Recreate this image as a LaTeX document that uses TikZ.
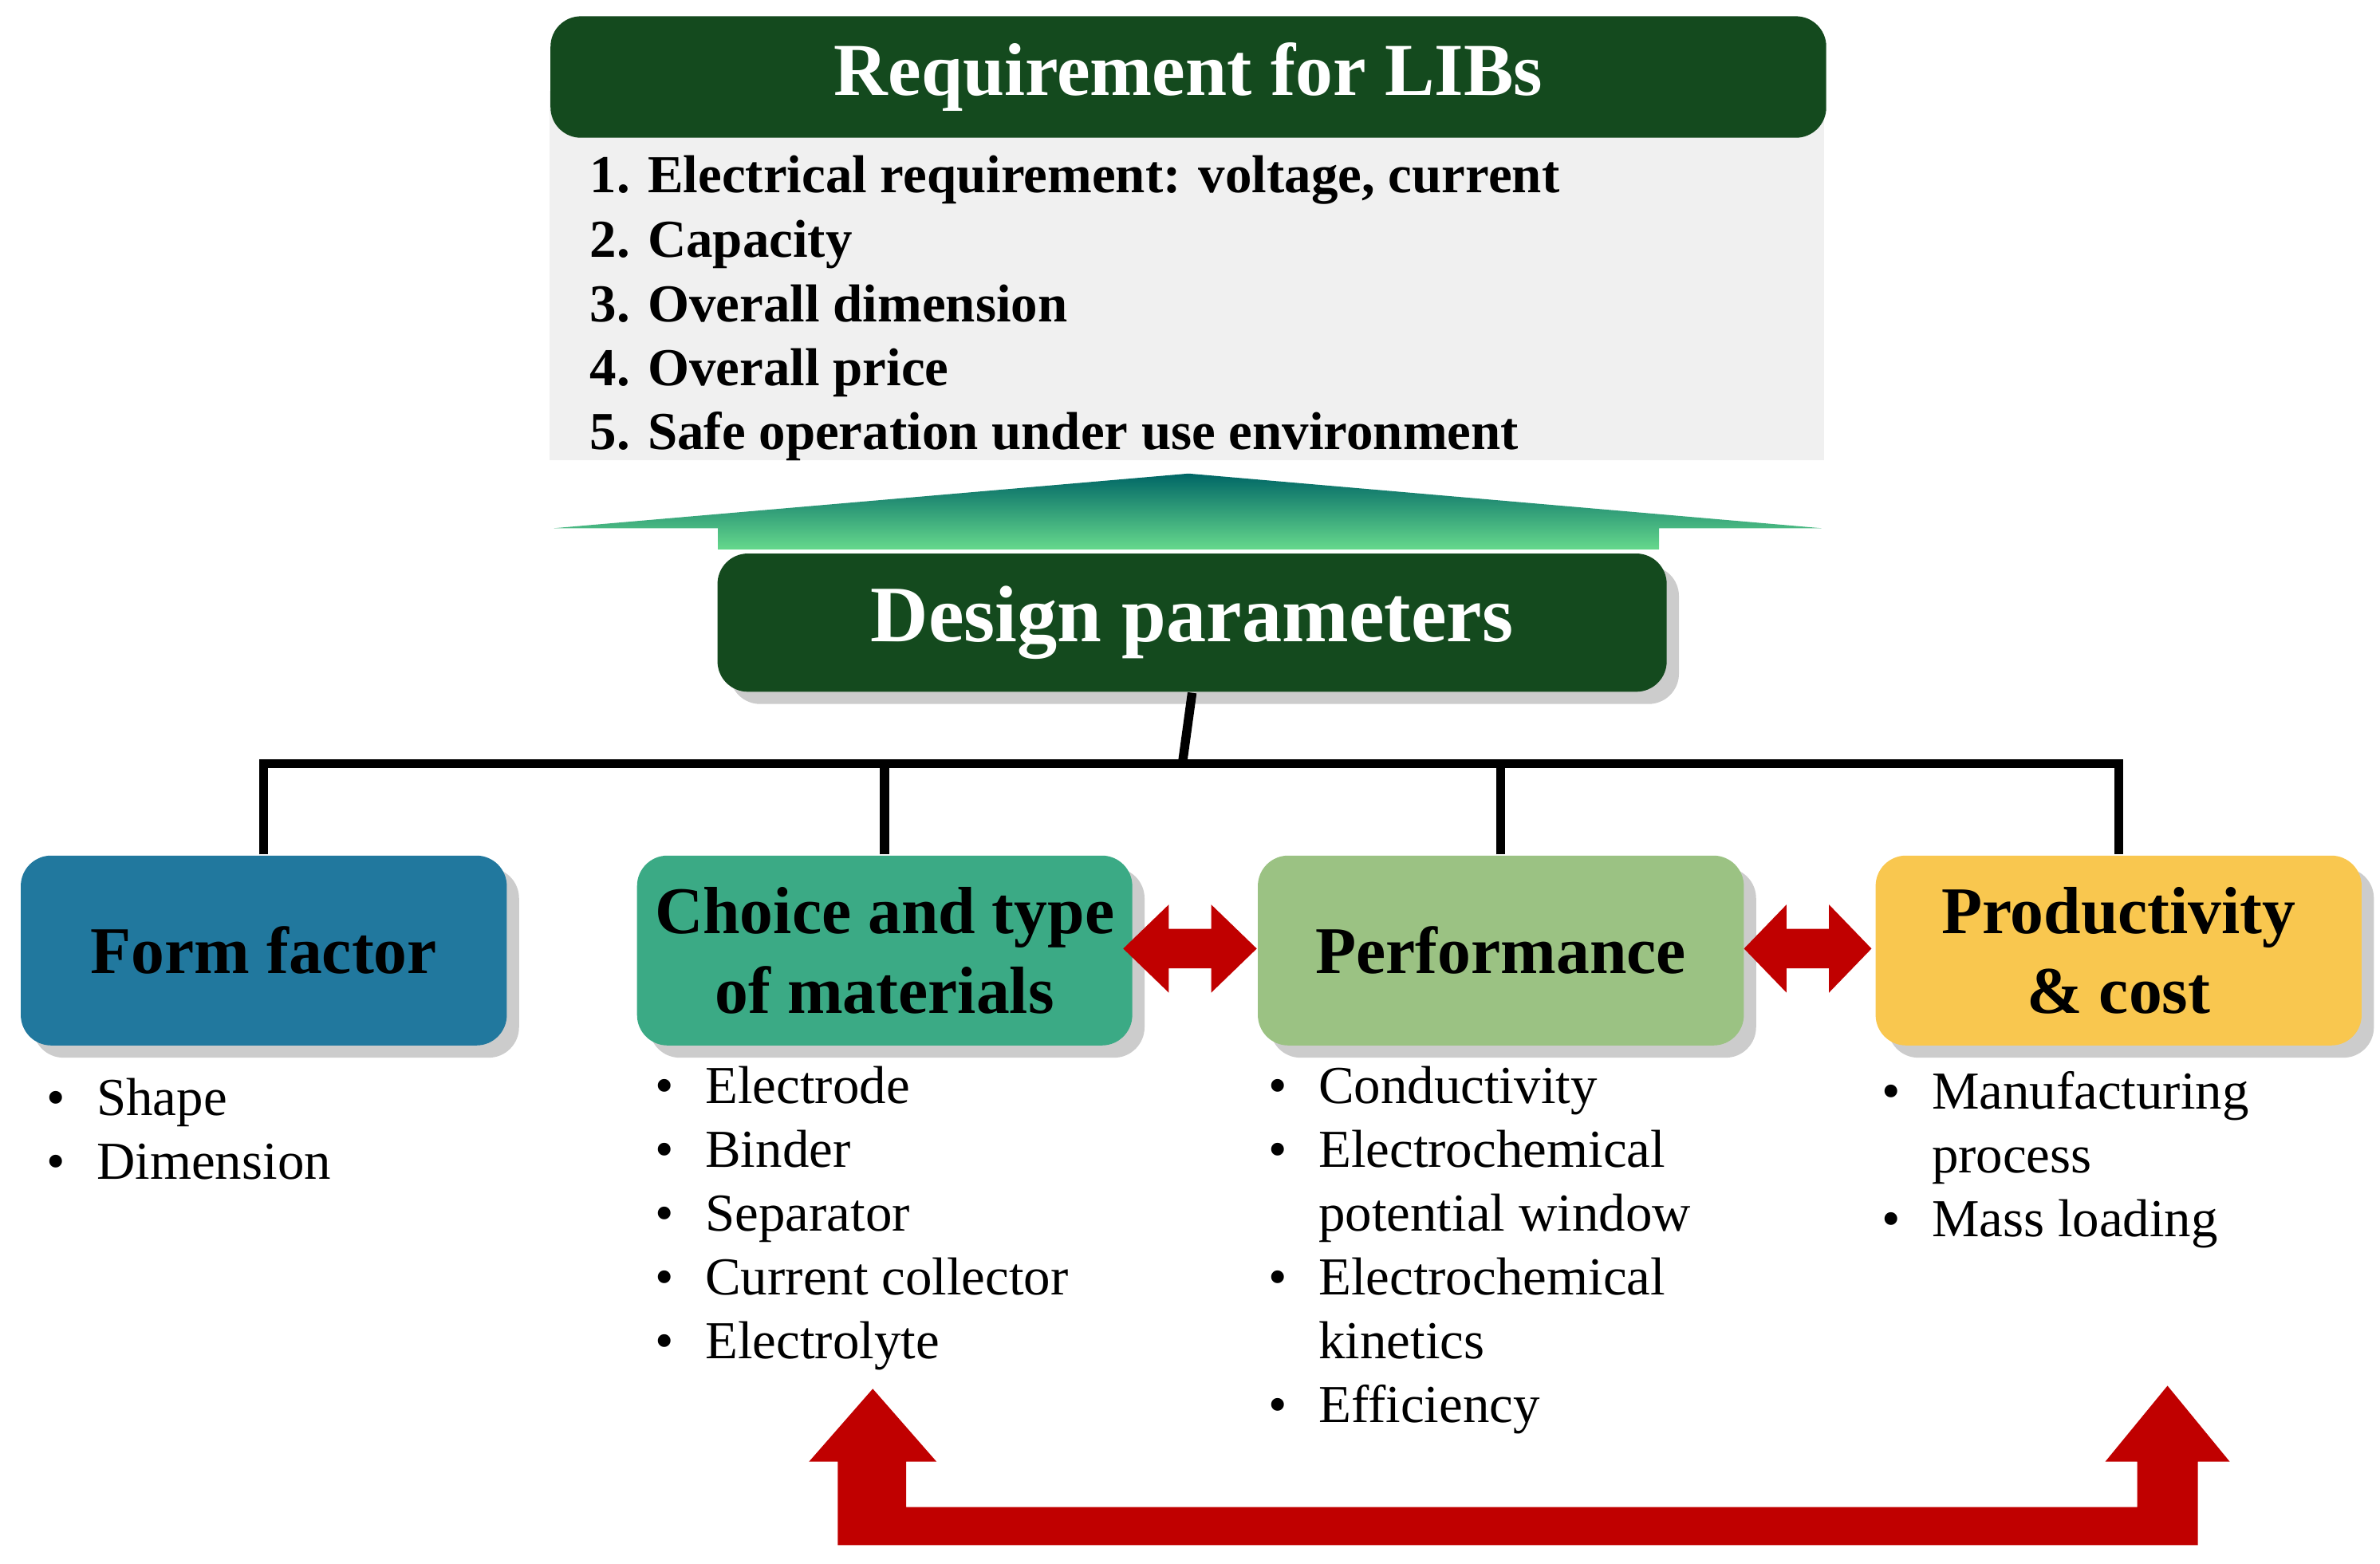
\documentclass[tikz,border=0pt]{standalone}
\usepackage{fontspec}
\setmainfont{Liberation Serif}
\usetikzlibrary{shadows}
\definecolor{dg}{HTML}{144A1E}
\definecolor{ff}{HTML}{21789E}
\definecolor{cm}{HTML}{3BAA85}
\definecolor{pf}{HTML}{9BC283}
\definecolor{pc}{HTML}{F9C74F}
\definecolor{rd}{HTML}{C00000}
\newcommand{\bl}[1]{\makebox[0.33cm][l]{\textbullet}#1}
\newcommand{\ind}[1]{\makebox[0.33cm][l]{}#1}
\begin{document}
\begin{tikzpicture}[x=0.01cm,y=-0.01cm,
 cat/.style={rounded corners=0.2cm,minimum width=3.2cm,minimum height=1.25cm,anchor=north west,align=center,font=\fontsize{12.5}{15}\selectfont\bfseries,drop shadow={opacity=0.4}},
 lst/.style={anchor=north west,align=left,font=\fontsize{10}{11.95}\selectfont,inner sep=0pt},
 tree/.style={line width=1.7pt}]
\useasboundingbox (0,0) rectangle (1568,1030);
\fill[gray!12] (362,60) rectangle (1202,303);
\node[fill=dg,rounded corners=0.2cm,minimum width=8.4cm,minimum height=0.8cm,anchor=north west,text=white,font=\fontsize{14}{16}\selectfont\bfseries] (req) at (362,10) {Requirement for LIBs};
\node[lst,font=\fontsize{10}{12}\selectfont\bfseries] (reql) at (388,102) {1. Electrical requirement: voltage, current\\[0.1pt]2. Capacity\\3. Overall dimension\\4. Overall price\\5. Safe operation under use environment};
\shade[top color=teal!80!black,bottom color=teal!50!green!60] (365,348) -- (783,312) -- (1200,348) -- (1093,348) -- (1093,362) -- (473,362) -- (473,348) -- cycle;
\node[fill=dg,rounded corners=0.2cm,minimum width=6.25cm,minimum height=0.91cm,anchor=north west,text=white,font=\fontsize{15}{17}\selectfont\bfseries,drop shadow={opacity=0.4}] (dp) at (472,364) {Design parameters};
\node[cat,fill=ff] (f) at (13,563) {Form factor};
\node[cat,fill=cm] (c) at (419,563) {Choice and type\\of materials};
\node[cat,fill=pf] (p) at (828,563) {Performance};
\node[cat,fill=pc] (q) at (1235,563) {Productivity\\\& cost};
\coordinate (j) at (779,503);
\draw[tree] (dp.south) -- (j);
\draw[tree] (f.north) |- (j) -| (q.north);
\draw[tree] (c.north) -- (c.north |- j);
\draw[tree] (p.north) -- (p.north |- j);
\fill[rd] (740,625) -- (770,596) -- (770,612) -- (798,612) -- (798,596) -- (828,625) -- (798,654) -- (798,638) -- (770,638) -- (770,654) -- cycle;
\fill[rd] (1149,625) -- (1177,596) -- (1177,612) -- (1205,612) -- (1205,596) -- (1233,625) -- (1205,654) -- (1205,638) -- (1177,638) -- (1177,654) -- cycle;
\node[lst] (fl) at (30,710) {\bl{Shape}\\\bl{Dimension}};
\node[lst] (cl) at (431,702) {\bl{Electrode}\\\bl{Binder}\\\bl{Separator}\\\bl{Current collector}\\\bl{Electrolyte}};
\node[lst] (pl) at (835,702) {\bl{Conductivity}\\\bl{Electrochemical}\\\ind{potential window}\\\bl{Electrochemical}\\\ind{kinetics}\\\bl{Efficiency}};
\node[lst] (ql) at (1239,705) {\bl{Manufacturing}\\\ind{process}\\\bl{Mass loading}};
\fill[rd] (552,1018) -- (552,963) -- (533,963) -- (575,915) -- (617,963) -- (597,963) -- (597,993) -- (1408,993) -- (1408,963) -- (1387,963) -- (1428,913) -- (1469,963) -- (1448,963) -- (1448,1018) -- cycle;
\end{tikzpicture}
\end{document}
